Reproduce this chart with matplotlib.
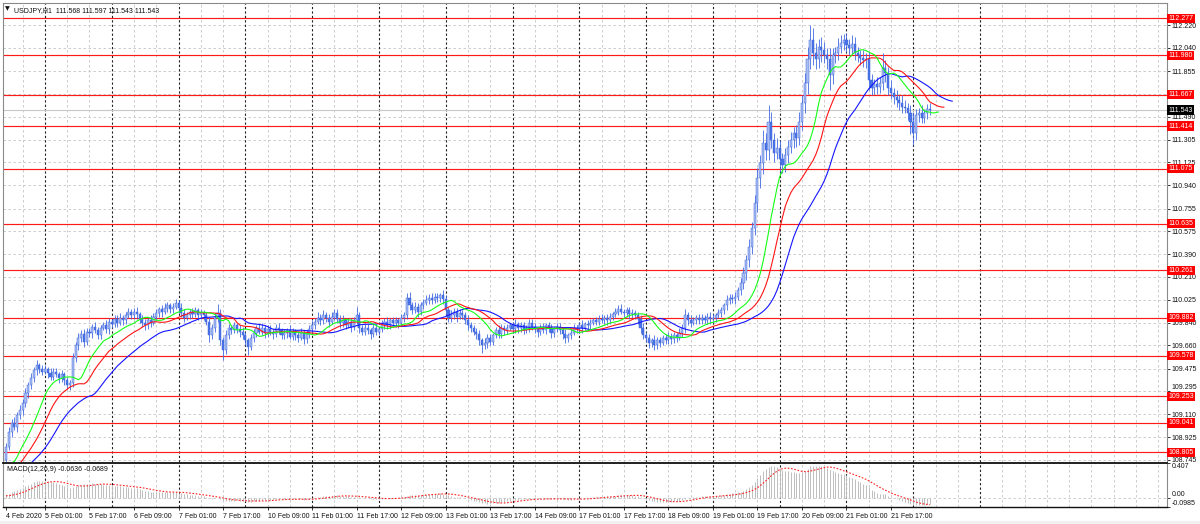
import numpy as np
import matplotlib
matplotlib.use("Agg")
import matplotlib.pyplot as plt
from matplotlib.transforms import blended_transform_factory

plt.rcParams['font.family'] = ['Liberation Sans', 'DejaVu Sans']

# ---------------- data ----------------
symbol_title = "USDJPY,H1  111.568 111.597 111.543 111.543"
macd_title = "MACD(12,26,9) -0.0636 -0.0689"

# hidden history before first visible bar (only feeds the indicators)
pre_close = [108.58, 108.60, 108.62, 108.61, 108.63, 108.65, 108.64, 108.66, 108.65, 108.67,
             108.66, 108.68, 108.67, 108.69, 108.68, 108.70, 108.69, 108.71, 108.70, 108.72,
             108.71, 108.70, 108.72, 108.71, 108.73, 108.72, 108.71, 108.73, 108.72, 108.74]

close = [
    108.85, 108.97, 109.04, 109.01, 109.10, 109.14, 109.20, 109.28, 109.34, 109.40,
    109.46, 109.50, 109.47, 109.45, 109.47, 109.44, 109.41, 109.45, 109.43, 109.40,
    109.43, 109.38, 109.34, 109.36, 109.56, 109.66, 109.72, 109.75, 109.69, 109.77,
    109.76, 109.81, 109.78, 109.74, 109.80, 109.82, 109.79, 109.85, 109.83, 109.87,
    109.84, 109.88, 109.86, 109.90, 109.93, 109.90, 109.93, 109.91, 109.87, 109.84,
    109.82, 109.86, 109.84, 109.89, 109.92, 109.95, 109.93, 109.96, 109.98, 109.95,
    109.97, 110.00, 109.96, 109.92, 109.88, 109.90, 109.93, 109.91, 109.94, 109.90,
    109.92, 109.90, 109.85, 109.74, 109.80, 109.88, 109.92, 109.70, 109.62, 109.74,
    109.80, 109.78, 109.82, 109.79, 109.77, 109.74, 109.70, 109.65, 109.72, 109.76,
    109.80, 109.77, 109.80, 109.76, 109.79, 109.77, 109.75, 109.80, 109.78, 109.74,
    109.76, 109.78, 109.73, 109.77, 109.74, 109.72, 109.76, 109.71, 109.75, 109.79,
    109.82, 109.85, 109.88, 109.86, 109.90, 109.88, 109.85, 109.89, 109.92, 109.87,
    109.84, 109.86, 109.82, 109.85, 109.81, 109.86, 109.90, 109.80, 109.77, 109.80,
    109.78, 109.75, 109.80, 109.77, 109.79, 109.83, 109.85, 109.82, 109.86, 109.84,
    109.86, 109.84, 109.88, 109.90, 110.04, 109.98, 109.94, 109.97, 109.93, 109.98,
    110.00, 110.02, 110.04, 110.02, 110.05, 110.04, 110.06, 110.03, 109.94, 109.88,
    109.90, 109.93, 109.89, 109.92, 109.90, 109.86, 109.82, 109.80, 109.77, 109.75,
    109.70, 109.66, 109.68, 109.72, 109.69, 109.74, 109.78, 109.75, 109.80, 109.78,
    109.80, 109.82, 109.79, 109.83, 109.80, 109.82, 109.78, 109.80, 109.84, 109.81,
    109.79, 109.77, 109.80, 109.78, 109.82, 109.80, 109.76, 109.79, 109.81, 109.78,
    109.75, 109.72, 109.74, 109.76, 109.80, 109.79, 109.82, 109.80, 109.83, 109.82,
    109.84, 109.86, 109.85, 109.87, 109.86, 109.88, 109.86, 109.89, 109.91, 109.93,
    109.95, 109.93, 109.92, 109.94, 109.91, 109.92, 109.90, 109.87, 109.80, 109.74,
    109.72, 109.68, 109.70, 109.66, 109.70, 109.68, 109.72, 109.70, 109.73, 109.71,
    109.74, 109.72, 109.76, 109.80, 109.90, 109.86, 109.84, 109.86, 109.88, 109.86,
    109.88, 109.86, 109.89, 109.87, 109.88, 109.90, 109.92, 109.94, 109.98, 110.02,
    110.04, 110.03, 110.05, 110.10, 110.16, 110.24, 110.34, 110.45, 110.60, 110.80,
    111.00, 111.12, 111.28, 111.22, 111.45, 111.30, 111.20, 111.24, 111.15, 111.10,
    111.18, 111.25, 111.30, 111.36, 111.32, 111.45, 111.60, 111.76, 111.95, 112.10,
    112.00, 111.95, 112.05, 112.02, 111.98, 111.95, 111.82, 111.98, 112.00, 112.05,
    112.08, 112.10, 112.06, 112.04, 112.07, 112.00, 111.98, 111.96, 111.94, 111.95,
    111.78, 111.72, 111.75, 111.73, 111.76, 111.88, 111.84, 111.72, 111.68, 111.65,
    111.62, 111.60, 111.57, 111.56, 111.52, 111.45, 111.36, 111.50, 111.52, 111.48,
    111.52, 111.55, 111.543,
]

# upper / lower shadows in hundredths of a yen
up_wick = [
    3, 4, 3, 5, 3, 4, 3, 4, 3, 4, 3, 4, 2, 3, 3, 2, 4, 3, 3, 2,
    3, 2, 3, 2, 4, 3, 4, 3, 4, 3, 3, 2, 4, 3, 2, 3, 4, 3, 2, 3,
    3, 4, 2, 3, 3, 2, 3, 4, 2, 3, 3, 2, 4, 3, 3, 2, 3, 4, 3, 2,
    3, 3, 2, 4, 3, 3, 2, 3, 3, 2, 3, 2, 3, 4, 3, 4, 7, 3, 3, 4,
    3, 2, 3, 2, 3, 4, 3, 2, 3, 3, 2, 3, 4, 2, 3, 3, 2, 3, 4, 2,
    3, 2, 4, 3, 2, 3, 4, 2, 3, 3, 4, 3, 5, 3, 4, 3, 3, 4, 3, 3,
    3, 4, 2, 3, 3, 3, 7, 3, 2, 3, 3, 2, 4, 3, 2, 3, 3, 4, 2, 3,
    3, 2, 3, 3, 4, 5, 3, 4, 3, 3, 3, 4, 3, 4, 3, 3, 2, 4, 3, 3,
    4, 3, 3, 3, 2, 3, 4, 3, 2, 3, 3, 2, 4, 3, 3, 2, 3, 4, 3, 2,
    3, 2, 3, 4, 2, 3, 3, 2, 3, 3, 3, 2, 3, 4, 2, 3, 3, 2, 3, 3,
    3, 4, 2, 3, 3, 2, 3, 4, 2, 3, 3, 2, 3, 3, 4, 2, 3, 3, 2, 3,
    3, 4, 2, 3, 3, 3, 2, 3, 3, 4, 3, 3, 2, 4, 3, 3, 2, 3, 4, 3,
    3, 2, 4, 3, 5, 3, 4, 3, 2, 3, 3, 2, 3, 4, 3, 2, 3, 3, 2, 4,
    3, 3, 4, 3, 4, 5, 4, 6, 5, 6, 8, 6, 10, 8, 13, 8, 6, 8, 6, 5,
    6, 5, 7, 5, 6, 8, 6, 8, 10, 12, 10, 8, 6, 8, 7, 6, 9, 6, 5, 7,
    6, 5, 6, 5, 7, 6, 5, 4, 6, 5, 6, 5, 4, 6, 5, 12, 6, 5, 6, 4,
    5, 4, 6, 5, 4, 6, 8, 5, 4, 6, 3, 4, 5,
]
dn_wick = [
    7, 3, 4, 3, 4, 3, 4, 3, 4, 3, 3, 4, 3, 3, 2, 4, 3, 3, 2, 4,
    3, 4, 3, 4, 3, 3, 4, 3, 4, 3, 3, 4, 2, 3, 3, 2, 3, 4, 3, 2,
    3, 2, 4, 3, 2, 3, 3, 4, 3, 3, 4, 3, 3, 2, 3, 3, 4, 2, 3, 3,
    3, 2, 4, 3, 3, 2, 3, 3, 2, 4, 3, 4, 3, 5, 3, 3, 3, 4, 8, 3,
    3, 3, 2, 3, 4, 3, 4, 7, 3, 3, 3, 2, 3, 4, 3, 3, 4, 2, 3, 3,
    3, 4, 2, 3, 4, 3, 2, 4, 3, 3, 3, 3, 2, 4, 3, 3, 4, 2, 3, 3,
    4, 3, 3, 2, 4, 3, 3, 4, 3, 3, 3, 4, 2, 3, 3, 2, 4, 3, 3, 2,
    3, 4, 2, 3, 3, 4, 3, 2, 4, 3, 3, 2, 3, 3, 2, 3, 3, 4, 4, 3,
    3, 3, 4, 2, 3, 3, 4, 3, 3, 4, 4, 6, 3, 4, 3, 3, 2, 3, 3, 4,
    3, 2, 3, 3, 4, 3, 3, 2, 3, 3, 3, 4, 3, 2, 3, 3, 4, 3, 2, 3,
    4, 4, 3, 3, 2, 3, 3, 4, 2, 3, 3, 2, 3, 3, 2, 3, 4, 3, 3, 2,
    3, 2, 3, 3, 4, 3, 3, 4, 4, 3, 3, 4, 3, 4, 3, 3, 2, 3, 3, 4,
    3, 3, 2, 3, 4, 4, 3, 2, 3, 3, 3, 2, 3, 4, 3, 3, 2, 3, 3, 4,
    3, 3, 4, 3, 4, 5, 6, 5, 6, 6, 7, 8, 9, 8, 8, 6, 7, 5, 10, 6,
    5, 6, 5, 6, 7, 6, 7, 8, 9, 8, 10, 8, 7, 9, 6, 8, 12, 7, 6, 6,
    5, 6, 5, 6, 5, 6, 5, 6, 5, 6, 8, 6, 5, 6, 5, 6, 7, 6, 5, 6,
    5, 6, 5, 4, 6, 10, 10, 6, 5, 4, 4, 5, 4,
]

levels = [112.277, 111.980, 111.667, 111.414, 111.075, 110.635,
          110.261, 109.882, 109.578, 109.253, 109.041, 108.805]
last_price = 111.543

price_ticks = [112.220, 112.040, 111.855, 111.670, 111.490, 111.305, 111.125, 110.940,
               110.755, 110.575, 110.390, 110.210, 110.025, 109.840, 109.660, 109.475,
               109.295, 109.110, 108.925, 108.745]
price_tick_labels = ["112.220", "112.040", "111.855", "", "111.490", "111.305", "111.125",
                     "110.940", "110.755", "110.575", "110.390", "110.210", "110.025",
                     "109.840", "109.660", "109.475", "109.295", "109.110", "108.925", "108.745"]

macd_ticks = [0.407, 0.0, -0.0985]
macd_tick_labels = ["0.407", "0.00", "-0.0985"]

x_label_bars = [0, 14, 30, 46, 62, 78, 94, 110, 126, 142, 158, 174, 190, 206, 222,
                238, 254, 270, 286, 302, 318]
x_labels = ["4 Feb 2020", "5 Feb 01:00", "5 Feb 17:00", "6 Feb 09:00", "7 Feb 01:00",
            "7 Feb 17:00", "10 Feb 09:00", "11 Feb 01:00", "11 Feb 17:00", "12 Feb 09:00",
            "13 Feb 01:00", "13 Feb 17:00", "14 Feb 09:00", "17 Feb 01:00", "17 Feb 17:00",
            "18 Feb 09:00", "19 Feb 01:00", "19 Feb 17:00", "20 Feb 09:00", "21 Feb 01:00",
            "21 Feb 17:00"]

# ---------------- derived series ----------------
c = np.array(close)
o = np.concatenate([[pre_close[-1]], c[:-1]])
hi = np.maximum(o, c) + np.array(up_wick) / 100.0
lo = np.minimum(o, c) - np.array(dn_wick) / 100.0
x = np.arange(len(c))
npre = len(pre_close)

median_full = np.concatenate([np.array(pre_close), (hi + lo) / 2.0])
close_full = np.concatenate([np.array(pre_close), c])
x_full = np.arange(len(close_full)) - npre


def smma(v, n):
    out = np.full(len(v), np.nan)
    out[n - 1] = v[:n].mean()
    for i in range(n, len(v)):
        out[i] = (out[i - 1] * (n - 1) + v[i]) / n
    return out


def ema(v, n):
    a = 2.0 / (n + 1)
    out = np.empty(len(v))
    out[0] = v[0]
    for i in range(1, len(v)):
        out[i] = a * v[i] + (1 - a) * out[i - 1]
    return out


jaw = smma(median_full, 13)
teeth = smma(median_full, 8)
lips = smma(median_full, 5)

macd_main = ema(close_full, 12) - ema(close_full, 26)
macd_sig = np.convolve(macd_main, np.ones(9) / 9, mode='full')[:len(macd_main)]
macd_sig[:8] = np.nan

# ---------------- layout ----------------
W, H = 1200, 524
fig = plt.figure(figsize=(W / 100, H / 100), dpi=100)
fig.patch.set_facecolor('white')

left, right = 2.7 / W, 1167 / W
ax = fig.add_axes([left, 1 - 462 / H, right - left, (462 - 3) / H])
axm = fig.add_axes([left, 1 - 506.7 / H, right - left, (506.7 - 463.0) / H])

px_per_bar = 2.783
x0 = 6.0
xlim = ((2.7 - x0) / px_per_bar, (1167 - x0) / px_per_bar)
ylim = (108.727, 112.399)

for a in (ax, axm):
    a.set_xlim(*xlim)
    a.set_facecolor('white')

ax.set_ylim(*ylim)
axm.set_ylim(-0.0985, 0.407)

# vertical grid + period separators
sep_bars = np.arange(14, 351, 24)
grid_bars = [b for b in np.arange(6, xlim[1], 8) if not any(abs(b - s) < 1 for s in sep_bars)]
for a in (ax, axm):
    for b in grid_bars:
        a.axvline(b, color='#c4c4c4', lw=0.6, ls=(0, (3, 3)), zorder=0)
    for b in sep_bars:
        a.axvline(b, color='#202020', lw=0.8, ls=(0, (2, 2)), zorder=0.5)

# horizontal grid
for t in price_ticks:
    ax.axhline(t, color='#c4c4c4', lw=0.6, ls=(0, (3, 3)), zorder=0)
for t in macd_ticks:
    axm.axhline(t, color='#c4c4c4', lw=0.6, ls=(0, (3, 3)), zorder=0)

# levels
for lv in levels:
    ax.axhline(lv, color='#ff1a1a', lw=0.85, zorder=1)
ax.axhline(last_price, color='#c8c8c8', lw=0.8, zorder=1)

# candles
ax.vlines(x, lo, hi, color='#4169e1', lw=0.6, zorder=3)
up = c >= o
ax.bar(x[up], c[up] - o[up], bottom=o[up], width=0.75, color='#aabef2',
       edgecolor='#4169e1', lw=0.35, zorder=4)
ax.bar(x[~up], o[~up] - c[~up], bottom=c[~up], width=0.75, color='#4a72e6',
       edgecolor='#4169e1', lw=0.35, zorder=4)

# alligator
ax.plot(x_full + 8, jaw, color='#1414ff', lw=0.8, zorder=5)
ax.plot(x_full + 5, teeth, color='#ff1414', lw=0.8, zorder=5)
ax.plot(x_full + 3, lips, color='#14ff14', lw=0.8, zorder=5)

# MACD
vis = x_full >= 0
axm.vlines(x_full[vis], 0, np.clip(macd_main[vis], -0.0985, 0.407),
           color='#bdbdbd', lw=0.7, zorder=2)
axm.plot(x_full[vis], macd_sig[vis], color='#ff2020', lw=0.8, ls=(0, (1.5, 1.5)), zorder=3)

# axes styling
for a in (ax, axm):
    for s in a.spines.values():
        s.set_color('#8a8a8a')
        s.set_linewidth(0.8)
ax.spines['bottom'].set_visible(False)
axm.spines['top'].set_color('#111111')
axm.spines['top'].set_linewidth(1.3)
axm.spines['bottom'].set_color('#111111')
axm.spines['bottom'].set_linewidth(1.0)

ax.yaxis.tick_right()
ax.set_yticks(price_ticks)
ax.set_yticklabels(price_tick_labels)
ax.tick_params(axis='y', labelsize=5, length=2, width=0.6, pad=1.5, colors='#111111')
ax.set_xticks([])
for lb in ax.get_yticklabels():
    if lb.get_text() == "109.295":
        lb.set_va('bottom')

axm.yaxis.tick_right()
axm.set_yticks(macd_ticks)
axm.set_yticklabels(macd_tick_labels)
axm.tick_params(axis='y', labelsize=5, length=2, width=0.6, pad=1.5, colors='#111111')
ylbls = axm.get_yticklabels()
ylbls[0].set_va('top')
ylbls[1].set_va('bottom')
ylbls[2].set_va('bottom')

axm.set_xticks(x_label_bars)
axm.set_xticklabels(x_labels)
axm.tick_params(axis='x', labelsize=5, length=2.5, width=0.6, pad=2, colors='#111111')
for lb in axm.get_xticklabels():
    lb.set_ha('left')

# level price tags on the right scale
tr = blended_transform_factory(ax.transAxes, ax.transData)
for lv in levels:
    ax.text(1.0012, lv, f"{lv:.3f}", transform=tr, fontsize=5, color='white',
            va='center', ha='left', clip_on=False, zorder=20,
            bbox=dict(boxstyle='square,pad=0.18', fc='#ff0000', ec='none'))
ax.text(1.0012, last_price, f"{last_price:.3f}", transform=tr, fontsize=5, color='white',
        va='center', ha='left', clip_on=False, zorder=20,
        bbox=dict(boxstyle='square,pad=0.18', fc='#000000', ec='none'))

# titles
ax.text(0.002, 0.992, "\u25BC", transform=ax.transAxes, fontsize=4.5, color='#111111',
        va='top', ha='left', family=['DejaVu Sans'])
ax.text(0.0095, 0.992, symbol_title, transform=ax.transAxes, fontsize=5,
        color='#111111', va='top', ha='left')
axm.text(0.004, 0.93, macd_title, transform=axm.transAxes, fontsize=5,
         color='#111111', va='top', ha='left')

# light strip at the very bottom like the terminal window
fig.patches.append(plt.Rectangle((0, 0), 1, 3 / H, transform=fig.transFigure,
                                 color='#f0f0f0', zorder=-1))

fig.savefig("out.png", dpi=100, facecolor='white')
